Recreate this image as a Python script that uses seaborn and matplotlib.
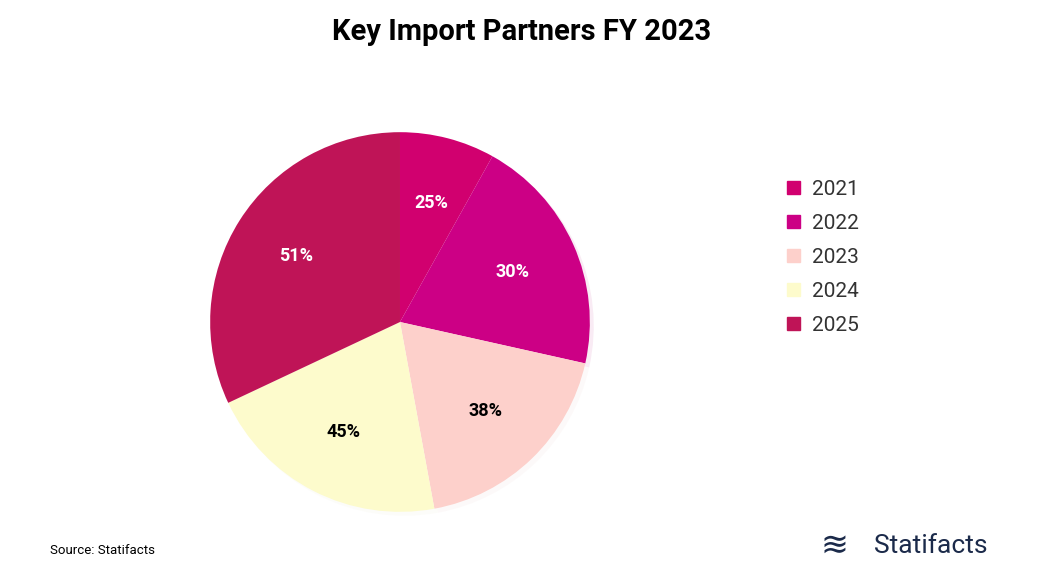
import matplotlib
matplotlib.use("Agg")
import matplotlib.pyplot as plt
import seaborn as sns
import numpy as np
from matplotlib.patches import Patch

sns.set_theme(style="white")
plt.rcParams['font.family'] = ['Roboto', 'DejaVu Sans']

years = ["2021", "2022", "2023", "2024", "2025"]
shares = [8.1, 20.4, 18.6, 20.9, 32.0]
labels = ["25%", "30%", "38%", "45%", "51%"]
colors = ["#d1006f", "#cc0085", "#fdd0cb", "#fdfbcc", "#bf1457"]
text_colors = ["white", "white", "black", "black", "white"]

fig = plt.figure(figsize=(10.43, 5.86), dpi=100)
ax = fig.add_axes([0.3835 - 0.182, 0.4505 - 0.324, 0.364, 0.648])
wedges, texts = ax.pie(shares, colors=colors, startangle=90, counterclock=False,
                       wedgeprops={'linewidth': 0},
                       shadow={'ox': 0.015, 'oy': -0.015, 'shade': 0.1, 'alpha': 0.08})
for w, lab, tc in zip(wedges, labels, text_colors):
    mid = np.deg2rad((w.theta1 + w.theta2) / 2)
    ax.text(0.65 * np.cos(mid), 0.65 * np.sin(mid), lab, ha="center", va="center",
            color=tc, fontsize=13, fontweight="bold")
ax.set_xlim(-1, 1)
ax.set_ylim(-1, 1)
ax.set_aspect("equal")

handles = [Patch(color=c, label=y) for c, y in zip(colors, years)]
fig.legend(handles=handles, loc="upper left", bbox_to_anchor=(0.737, 0.725),
           frameon=False, fontsize=15, handlelength=0.6, handleheight=0.6,
           labelspacing=0.72, handletextpad=0.6, labelcolor="#333333")

fig.text(0.5, 0.945, "Key Import Partners FY 2023", ha="center", va="center",
         fontsize=21, fontweight="bold", color="black")
fig.text(0.048, 0.06, "Source: Statifacts", fontsize=9.5, color="black", va="center")
fig.text(0.947, 0.068, "Statifacts", fontsize=19, color="#1b2a4a", ha="right", va="center")
fig.text(0.80, 0.068, "≋", fontsize=24, color="#1b2a4a", ha="center", va="center")
fig.savefig("out.png", dpi=100, facecolor="white")
